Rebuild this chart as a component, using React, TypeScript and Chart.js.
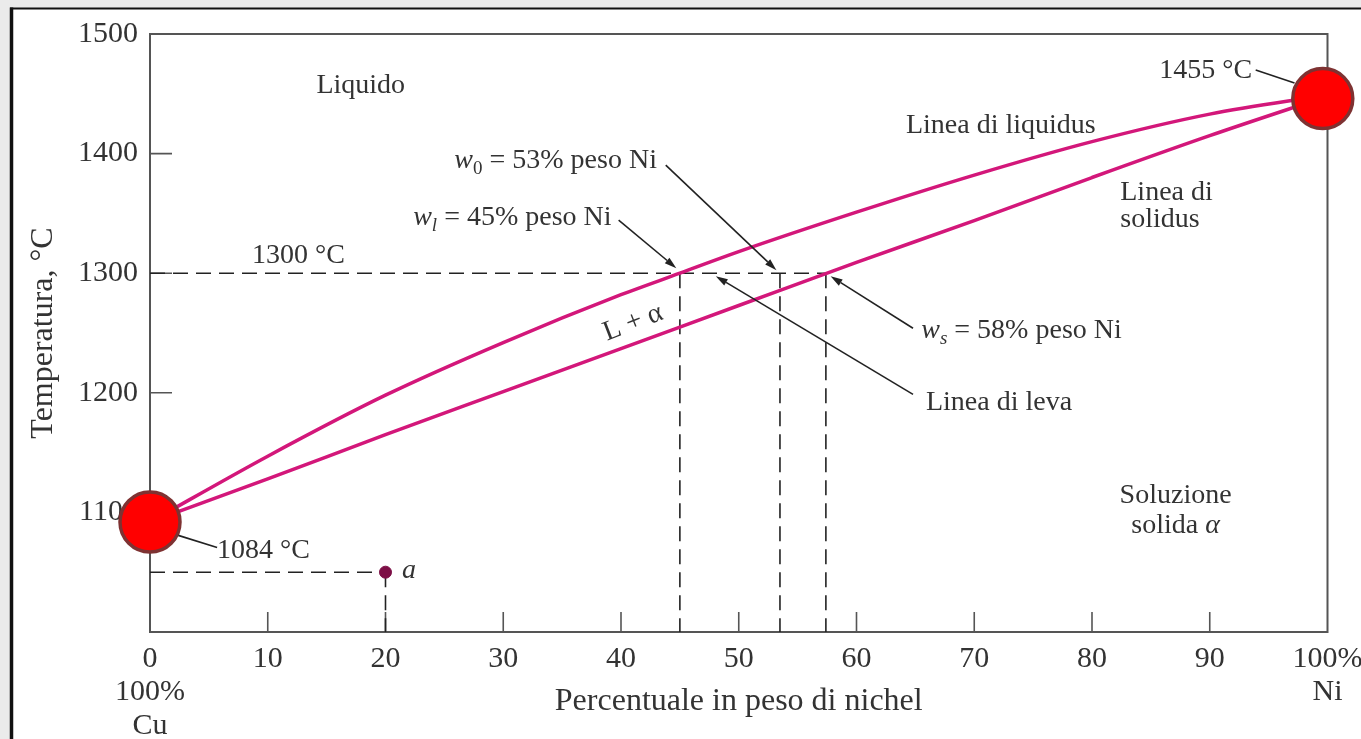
import React, { useEffect, useRef } from 'react';
import { Chart, registerables } from 'chart.js';

Chart.register(...registerables);

const SERIF = "'Liberation Serif', 'Times New Roman', Times, serif";
const TEXT = '#333333';
const AXIS = '#555555';
const CURVE = '#d3177a';
const DASH = '#222222';

// ---- data (weight % Ni, temperature °C) ----
const liquidusNi = [0, 10, 20, 30, 40, 45, 50, 60, 70, 80, 90, 100];
const liquidusT = [1092, 1147, 1198, 1242, 1282, 1300, 1318, 1351, 1382, 1410, 1433, 1449];
const solidusNi = [0, 10, 20, 30, 40, 50, 60, 70, 80, 90, 100];
const solidusT = [1092, 1128, 1165, 1201, 1237, 1273, 1309, 1344, 1380, 1415, 1448];

const meltNi = [0, 99.6];
const meltT = [1092, 1446];

const tieLineT = 1300;
const tieNi = [45, 53.5, 57.4]; // w_l, w_0, w_s
const alloyNi = 20;
const alloyT = 1050;

const xMin = 0;
const xMax = 100;
const yMin = 1000;
const yMax = 1500;
const xTickLabels: Record<number, string | string[]> = {
  0: ['0', '100%', 'Cu'],
  100: ['100%', 'Ni'],
};

type Seg = { s: string; it?: boolean; sub?: boolean };
type Label = { segs: Seg[]; ni: number; t: number; align: 'left' | 'right' | 'center'; rot?: number };

const labels: Label[] = [
  { segs: [{ s: 'Liquido' }], ni: 17.9, t: 1450.6, align: 'center' },
  { segs: [{ s: '1300 °C' }], ni: 12.6, t: 1308.4, align: 'center' },
  { segs: [{ s: 'w', it: true }, { s: '0', sub: true }, { s: ' = 53% peso Ni' }], ni: 43.05, t: 1387.9, align: 'right' },
  { segs: [{ s: 'w', it: true }, { s: 'l', sub: true, it: true }, { s: ' = 45% peso Ni' }], ni: 39.2, t: 1340.2, align: 'right' },
  { segs: [{ s: 'w', it: true }, { s: 's', sub: true, it: true }, { s: ' = 58% peso Ni' }], ni: 65.5, t: 1245.6, align: 'left' },
  { segs: [{ s: 'Linea di leva' }], ni: 65.9, t: 1185.4, align: 'left' },
  { segs: [{ s: 'Linea di liquidus' }], ni: 64.2, t: 1417.2, align: 'left' },
  { segs: [{ s: 'Linea di' }], ni: 82.4, t: 1361.1, align: 'left' },
  { segs: [{ s: 'solidus' }], ni: 82.4, t: 1338.5, align: 'left' },
  { segs: [{ s: 'Soluzione' }], ni: 87.1, t: 1107.5, align: 'center' },
  { segs: [{ s: 'solida ' }, { s: 'α', it: true }], ni: 87.1, t: 1082.4, align: 'center' },
  { segs: [{ s: '1455 °C' }], ni: 93.6, t: 1463.2, align: 'right' },
  { segs: [{ s: '1084 °C' }], ni: 5.7, t: 1061.5, align: 'left' },
  { segs: [{ s: 'a', it: true }], ni: 21.4, t: 1044.8, align: 'left' },
  { segs: [{ s: 'L + α' }], ni: 41.0, t: 1259, align: 'center', rot: -21 },
];

// arrows: [startNi, startT, tipNi, tipT, head]
const arrows: [number, number, number, number, boolean][] = [
  [43.8, 1390.4, 53.2, 1302.5, true],
  [39.8, 1344.4, 44.7, 1304.2, true],
  [64.8, 1254.0, 57.8, 1297.5, true],
  [64.8, 1198.7, 48.05, 1297.5, true],
  [93.9, 1469.9, 97.2, 1459.0, false],
  [2.4, 1080.8, 5.7, 1070.7, false],
];

const FONT_SIZE = 28;

function drawRich(ctx: CanvasRenderingContext2D, segs: Seg[], x: number, y: number, align: string) {
  const fontFor = (g: Seg) => `${g.it ? 'italic ' : ''}${g.sub ? Math.round(FONT_SIZE * 0.68) : FONT_SIZE}px ${SERIF}`;
  const widths = segs.map((g) => {
    ctx.font = fontFor(g);
    return ctx.measureText(g.s).width;
  });
  const total = widths.reduce((a, b) => a + b, 0);
  let cx = align === 'right' ? x - total : align === 'center' ? x - total / 2 : x;
  ctx.textAlign = 'left';
  ctx.textBaseline = 'alphabetic';
  segs.forEach((g, i) => {
    ctx.font = fontFor(g);
    ctx.fillText(g.s, cx, g.sub ? y + FONT_SIZE * 0.22 : y);
    cx += widths[i];
  });
}

const framePlugin = {
  id: 'frame',
  beforeDraw(chart: any) {
    const { ctx, width, height } = chart;
    ctx.save();
    ctx.fillStyle = '#ebebeb';
    ctx.fillRect(0, 0, width, height);
    ctx.fillStyle = '#ffffff';
    ctx.fillRect(12, 9, width - 12, height - 9);
    ctx.strokeStyle = '#111';
    ctx.lineWidth = 2;
    ctx.beginPath();
    ctx.moveTo(10, 8.5);
    ctx.lineTo(width, 8.5);
    ctx.stroke();
    ctx.lineWidth = 3.5;
    ctx.beginPath();
    ctx.moveTo(11.5, 7.5);
    ctx.lineTo(11.5, height);
    ctx.stroke();
    ctx.restore();
  },
  beforeDatasetsDraw(chart: any) {
    const { ctx, chartArea } = chart;
    const { left, top, right, bottom } = chartArea;
    const xs = chart.scales.x;
    const ys = chart.scales.y;
    ctx.save();
    ctx.strokeStyle = AXIS;
    ctx.lineWidth = 2;
    ctx.beginPath();
    ctx.moveTo(left - 1, top);
    ctx.lineTo(right, top);
    ctx.lineTo(right, bottom + 1);
    ctx.stroke();
    ctx.lineWidth = 1.6;
    ctx.beginPath();
    xs.ticks.forEach((tk: any) => {
      if (tk.value <= xMin || tk.value >= xMax) return;
      const px = xs.getPixelForValue(tk.value);
      ctx.moveTo(px, bottom);
      ctx.lineTo(px, bottom - 20);
    });
    ys.ticks.forEach((tk: any) => {
      if (tk.value <= yMin || tk.value >= yMax) return;
      const py = ys.getPixelForValue(tk.value);
      ctx.moveTo(left, py);
      ctx.lineTo(left + 22, py);
    });
    ctx.stroke();
    ctx.restore();
  },
  afterDatasetsDraw(chart: any) {
    const { ctx } = chart;
    const xs = chart.scales.x;
    const ys = chart.scales.y;
    ctx.save();
    ctx.fillStyle = TEXT;
    labels.forEach((l) => {
      const x = xs.getPixelForValue(l.ni);
      const y = ys.getPixelForValue(l.t);
      if (l.rot) {
        ctx.save();
        ctx.translate(x, y);
        ctx.rotate((l.rot * Math.PI) / 180);
        drawRich(ctx, l.segs, 0, 8, l.align);
        ctx.restore();
      } else {
        drawRich(ctx, l.segs, x, y, l.align);
      }
    });
    ctx.strokeStyle = '#222';
    ctx.fillStyle = '#222';
    ctx.lineWidth = 1.6;
    arrows.forEach(([n0, t0, n1, t1, head]) => {
      const x0 = xs.getPixelForValue(n0);
      const y0 = ys.getPixelForValue(t0);
      const x1 = xs.getPixelForValue(n1);
      const y1 = ys.getPixelForValue(t1);
      const ang = Math.atan2(y1 - y0, x1 - x0);
      const hl = 12;
      const hw = 3.6;
      const bx = x1 - Math.cos(ang) * hl;
      const by = y1 - Math.sin(ang) * hl;
      ctx.beginPath();
      ctx.moveTo(x0, y0);
      ctx.lineTo(head ? bx : x1, head ? by : y1);
      ctx.stroke();
      if (head) {
        ctx.beginPath();
        ctx.moveTo(x1, y1);
        ctx.lineTo(bx + Math.sin(ang) * hw, by - Math.cos(ang) * hw);
        ctx.lineTo(bx - Math.sin(ang) * hw, by + Math.cos(ang) * hw);
        ctx.closePath();
        ctx.fill();
      }
    });
    ctx.restore();
  },
};

function dashed(points: { x: number; y: number }[]) {
  return {
    type: 'line' as const,
    data: points,
    borderColor: DASH,
    borderWidth: 1.6,
    borderDash: [15, 8],
    pointRadius: 0,
    fill: false,
    order: 10,
  };
}

export default function App() {
  const ref = useRef<HTMLCanvasElement | null>(null);

  useEffect(() => {
    if (!ref.current) return;
    const datasets: any[] = [
      {
        type: 'scatter',
        data: meltNi.map((n, i) => ({ x: n, y: meltT[i] })),
        pointRadius: 30,
        pointBackgroundColor: '#ff0000',
        pointBorderColor: '#7e3232',
        pointBorderWidth: 3.5,
        clip: false,
        order: 0,
      },
      {
        type: 'scatter',
        data: [{ x: alloyNi, y: alloyT }],
        pointRadius: 6,
        pointBackgroundColor: '#7d0f46',
        pointBorderColor: '#7d0f46',
        order: 1,
      },
      {
        type: 'line',
        data: liquidusNi.map((n, i) => ({ x: n, y: liquidusT[i] })),
        borderColor: CURVE,
        borderWidth: 3.5,
        pointRadius: 0,
        cubicInterpolationMode: 'monotone',
        fill: false,
        order: 2,
      },
      {
        type: 'line',
        data: solidusNi.map((n, i) => ({ x: n, y: solidusT[i] })),
        borderColor: CURVE,
        borderWidth: 3.5,
        pointRadius: 0,
        cubicInterpolationMode: 'monotone',
        fill: false,
        order: 3,
      },
      dashed([
        { x: xMin, y: tieLineT },
        { x: Math.max(...tieNi), y: tieLineT },
      ]),
      ...tieNi.map((n) =>
        dashed([
          { x: n, y: tieLineT },
          { x: n, y: yMin },
        ])
      ),
      dashed([
        { x: xMin, y: alloyT },
        { x: alloyNi, y: alloyT },
      ]),
      dashed([
        { x: alloyNi, y: alloyT },
        { x: alloyNi, y: yMin },
      ]),
    ];

    const chart = new Chart(ref.current, {
      type: 'scatter',
      data: { datasets },
      options: {
        animation: false,
        responsive: false,
        devicePixelRatio: 1,
        events: [],
        layout: { padding: { top: 34, right: 31, left: 0, bottom: 0 } },
        plugins: { legend: { display: false }, tooltip: { enabled: false } },
        scales: {
          x: {
            type: 'linear',
            min: xMin,
            max: xMax,
            afterFit: (s: any) => {
              s.height = 107;
              s.paddingLeft = 0;
              s.paddingRight = 0;
            },
            grid: { display: false, drawTicks: false, tickLength: 0 },
            border: { display: true, color: AXIS, width: 2 },
            ticks: {
              stepSize: 10,
              autoSkip: false,
              maxRotation: 0,
              padding: 10,
              color: TEXT,
              font: { family: SERIF, size: 30, lineHeight: 1.12 },
              callback: (v: any) => (xTickLabels[v] !== undefined ? xTickLabels[v] : String(v)),
            },
            title: {
              display: true,
              text: 'Percentuale in peso di nichel',
              color: TEXT,
              font: { family: SERIF, size: 32 },
              padding: { top: 0, bottom: 18 },
            },
          },
          y: {
            type: 'linear',
            min: yMin,
            max: yMax,
            afterFit: (s: any) => {
              s.width = 150;
              s.paddingTop = 0;
              s.paddingBottom = 0;
            },
            grid: { display: false, drawTicks: false, tickLength: 0 },
            border: { display: true, color: AXIS, width: 2 },
            ticks: {
              stepSize: 100,
              padding: 12,
              color: TEXT,
              font: { family: SERIF, size: 30 },
              callback: (v: any) => (v === yMin ? '' : String(v)),
            },
            title: {
              display: true,
              text: 'Temperatura, °C',
              color: TEXT,
              font: { family: SERIF, size: 32 },
              padding: { top: 24, bottom: 0 },
            },
          },
        },
      } as any,
      plugins: [framePlugin],
    });
    return () => chart.destroy();
  }, []);

  return (
    <div style={{ position: 'fixed', left: 0, top: 0, width: 1361, height: 739, background: '#fff' }}>
      <canvas ref={ref} width={1361} height={739} style={{ display: 'block' }} />
    </div>
  );
}
